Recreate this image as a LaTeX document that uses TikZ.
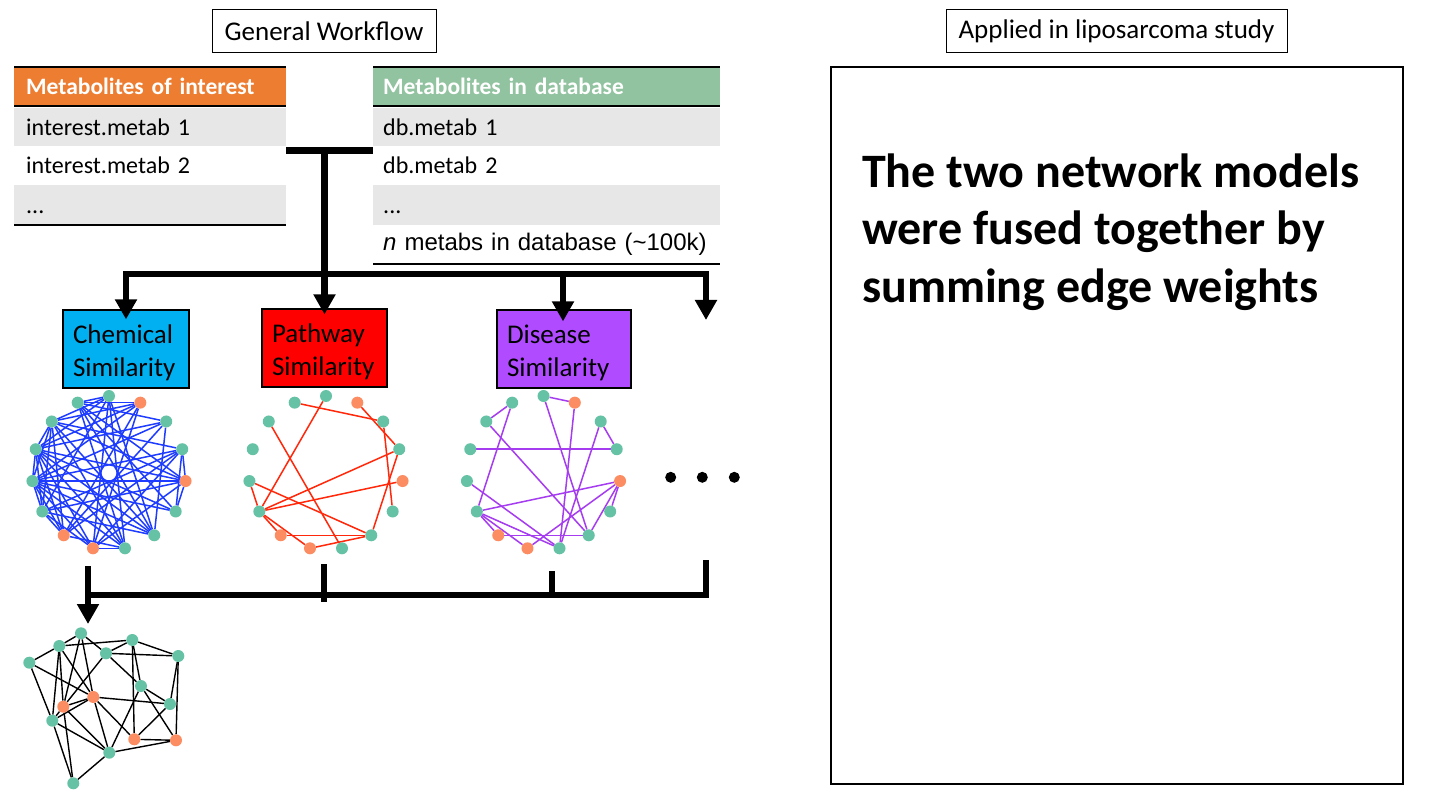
\documentclass[tikz,border=0pt]{standalone}
\usepackage{fontspec}
\setmainfont{Carlito}
\newfontfamily\arialfont{Liberation Sans}
\usetikzlibrary{arrows.meta,calc}
\pgfdeclarelayer{back}
\pgfdeclarelayer{edges}
\pgfsetlayers{back,edges,main}
\definecolor{nteal}{RGB}{102,194,165}
\definecolor{norng}{RGB}{252,141,98}
\definecolor{hdrorange}{RGB}{237,125,49}
\definecolor{hdrgreen}{RGB}{145,195,160}
\definecolor{rowgray}{RGB}{231,231,231}
\definecolor{chemblue}{RGB}{0,176,240}
\definecolor{pathred}{RGB}{255,0,0}
\definecolor{dispurple}{RGB}{176,75,255}
\definecolor{eblue}{RGB}{30,60,255}
\definecolor{ered}{RGB}{255,40,10}
\definecolor{epurple}{RGB}{165,60,240}
\newcommand{\boxstrut}{\rule{0pt}{26pt}}
\begin{document}
\begin{tikzpicture}[x=1pt,y=-1pt,
  bigtri/.tip={Triangle[width=21pt,length=20pt]},
  titlebox/.style={draw, line width=1pt, minimum width=#1, minimum height=43pt, inner sep=0pt, font=\fontsize{27}{32}\selectfont},
  hdrcell/.style={anchor=west, inner ysep=0pt, minimum height=39pt, align=left, text=white, font=\bfseries\fontsize{23.5}{29}\selectfont},
  cell/.style={anchor=west, inner ysep=0pt, align=left, font=\fontsize{24}{29}\selectfont},
  lcol/.style={text width=248pt, inner xsep=12pt},
  rcol/.style={text width=327pt, inner xsep=10pt},
  tline/.style={line width=2pt},
  simbox/.style={draw, line width=1.2pt, inner xsep=10pt, inner ysep=0pt, minimum height=78pt, align=left, font=\fontsize{27}{32.4}\selectfont},
  conn/.style={line width=6.5pt, line join=miter},
  netnode/.style={circle, inner sep=0pt, minimum size=12pt, draw=none},
  dotnode/.style={circle, inner sep=0pt, minimum size=11pt, fill=black},
  bigtext/.style={anchor=base west, inner sep=0pt, font=\bfseries\fontsize{48}{57}\selectfont},
  blueedge/.style={eblue, line width=1.5pt},
  rededge/.style={ered, line width=1.5pt},
  purpedge/.style={epurple, line width=1.5pt},
  blackedge/.style={black, line width=1.4pt}
]
\begin{pgfonlayer}{back}
\fill[white] (0,0) rectangle (1440,810);
\end{pgfonlayer}
\useasboundingbox (0,0) rectangle (1440,810);

% titles
\node[titlebox=224pt] (gw) at (324,31.5) {General Workflow};
\node[titlebox=341pt] (ap) at (1116.5,31.5) {Applied in liposarcoma study};

% right panel
\node[draw, line width=1.5pt, minimum width=572pt, minimum height=717pt, inner sep=0pt] (panel) at (1117,425.5) {};
\node[bigtext] (big1) at (862,188) {The two network models};
\node[bigtext] (big2) at (862,245) {were fused together by};
\node[bigtext] (big3) at (862,302) {summing edge weights};

% left table
\node[hdrcell, lcol, fill=hdrorange] (lh) at (14,86.5) {Metabolites of interest};
\node[cell, lcol, fill=rowgray, minimum height=38pt] (li1) at (14,127) {interest.metab 1};
\node[cell, lcol, minimum height=39pt] (li2) at (14,165.5) {interest.metab 2};
\node[cell, lcol, fill=rowgray, minimum height=40pt] (li3) at (14,205) {\vphantom{Ib}...};
\draw[tline] (lh.north west) -- (lh.north east);
\draw[tline] (lh.south west) -- (lh.south east);
\draw[tline] (li3.south west) -- (li3.south east);

% right table
\node[hdrcell, rcol, fill=hdrgreen] (rh) at (373,86.5) {Metabolites in database};
\node[cell, rcol, fill=rowgray, minimum height=38pt] (ri1) at (373,127) {db.metab 1};
\node[cell, rcol, minimum height=39pt] (ri2) at (373,165.5) {db.metab 2};
\node[cell, rcol, fill=rowgray, minimum height=40pt] (ri3) at (373,205) {\vphantom{Ib}...};
\node[cell, rcol, minimum height=39pt] (ri4) at (373,244.5) {\arialfont\textit{n} metabs in database (\textasciitilde100k)};
\draw[tline] (rh.north west) -- (rh.north east);
\draw[tline] (rh.south west) -- (rh.south east);
\draw[tline] (ri4.south west) -- (ri4.south east);

% similarity boxes
\node[simbox, fill=chemblue, text width=106pt] (chem) at (126,349) {\boxstrut Chemical\\Similarity};
\node[simbox, fill=pathred, text width=105pt] (path) at (324.5,348) {\boxstrut Pathway\\Similarity};
\node[simbox, fill=dispurple, text width=114pt] (dis) at (564,349) {\boxstrut Disease\\Similarity};

% top connectors
\coordinate (tj) at (324.5,150.5);
\coordinate (barR) at (706,274);
\coordinate (barD) at (563,274);
\coordinate (more) at (706,320);
\draw[conn] ($(li2.north east)+(0,4.5)$) -- ($(ri2.north west)+(0,4.5)$);
\draw[conn, -bigtri] (tj) -- ($(path.north)+(0,6)$);
\draw[conn, bigtri-bigtri] ($(chem.north)+(0,10)$) |- (barR) -- (more);
\draw[conn, -bigtri] (barD) -- ($(dis.north)+(-1,12)$);

% networks
\foreach \i/\c in {0/nteal,1/norng,2/nteal,3/nteal,4/norng,5/nteal,6/nteal,7/nteal,8/norng,9/norng,10/nteal,11/nteal,12/nteal,13/nteal,14/nteal}{
  \node[netnode, fill=\c] (c\i) at ({109+77*cos(90-24*\i)},{473-77*sin(90-24*\i)}) {};
  \node[netnode, fill=\c] (p\i) at ({326+77*cos(90-24*\i)},{473-77*sin(90-24*\i)}) {};
  \node[netnode, fill=\c] (d\i) at ({543.5+77*cos(90-24*\i)},{473-77*sin(90-24*\i)}) {};
}
\begin{pgfonlayer}{edges}
\foreach \a/\b in {0/14,0/13,0/8,0/10,0/12,0/6,1/14,1/13,1/12,1/11,1/9,1/8,2/12,2/14,2/6,2/11,2/9,
  3/10,3/9,3/8,3/13,3/5,3/11,4/11,4/12,4/13,4/10,4/3,4/5,4/14,5/11,5/12,5/14,6/13,6/14,6/12,6/11,
  7/14,7/13,7/8,7/12,7/11,8/10,8/11,8/12,8/4,9/13,9/11,9/10,9/7,9/12,10/11,10/12,10/13,10/6,11/12,11/13,12/13,7/0}
  \draw[blueedge] (c\a) -- (c\b);
\foreach \a/\b in {14/2,0/10,13/7,1/3,2/5,3/10,3/6,4/10,11/10,11/6,10/9,10/8,9/6,8/6}
  \draw[rededge] (p\a) -- (p\b);
\foreach \a/\b in {13/14,14/10,0/1,0/6,1/7,13/6,2/3,2/7,12/3,11/7,4/10,4/5,4/6,4/8,10/9,10/8,10/7,9/6}
  \draw[purpedge] (d\a) -- (d\b);
\end{pgfonlayer}

% dots
\node[dotnode] (dot1) at (670.7,477.3) {};
\node[dotnode] (dot2) at (702.3,477.3) {};
\node[dotnode] (dot3) at (734.3,477.3) {};

% bottom connectors
\coordinate (cnb) at (88,566);
\coordinate (pnb) at (324,564);
\coordinate (dnb) at (552,571);
\coordinate (mnb) at (706,560);
\coordinate (lb) at (88,595);
\coordinate (pbb) at (324,602);
\coordinate (dbb) at (552,595);
\coordinate (ftip) at (88,624);
\draw[conn] (mnb) |- (lb);
\draw[conn, -bigtri] (cnb) -- (ftip);
\draw[conn] (pnb) -- (pbb);
\draw[conn] (dnb) -- (dbb);

% fused network
\foreach \n/\x/\y/\c in {a/81/633.3/nteal, b/59.3/646/nteal, c/132.3/640/nteal, d/106/653.3/nteal,
  e/178.3/656/nteal, f/29.3/662.7/nteal, g/141/686/nteal, h/93.3/697/norng, i/63.3/706.7/norng,
  j/170/704/nteal, k/52.3/720.7/nteal, l/134.3/739.3/norng, m/176/740.3/norng, n/109.3/752.7/nteal, o/73.3/783.3/nteal}
  \node[netnode, fill=\c] (f\n) at (\x,\y) {};
\begin{pgfonlayer}{edges}
\foreach \a/\b in {a/b,a/d,a/h,a/i,b/c,b/f,b/k,b/i,b/h,c/d,c/e,c/g,c/l,d/e,d/i,d/g,e/j,e/m,
  f/h,f/k,g/j,g/m,g/n,h/j,h/n,h/l,h/k,h/i,i/k,i/n,i/o,k/n,j/l,l/m,n/m,n/o,k/o}
  \draw[blackedge] (f\a) -- (f\b);
\end{pgfonlayer}
\end{tikzpicture}
\end{document}
